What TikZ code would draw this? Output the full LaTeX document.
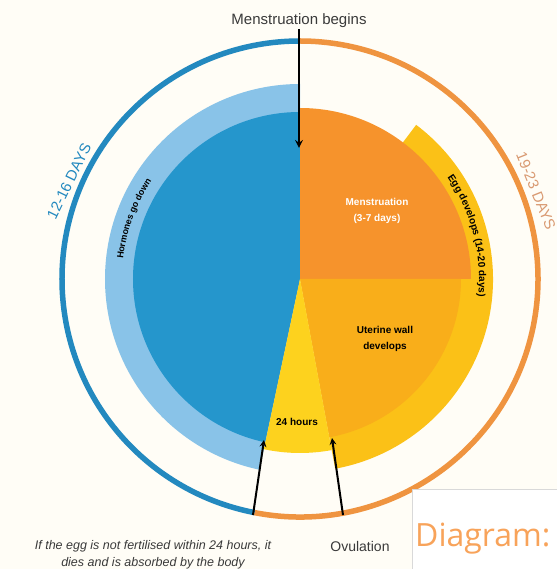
\documentclass[tikz,border=0pt]{standalone}
\usepackage{fontspec}
\setmainfont{Liberation Sans}
\newfontfamily\diagfont{Open Sans}
\usetikzlibrary{decorations.text}

\definecolor{cream}{HTML}{FFFDF6}
\definecolor{ringblue}{HTML}{2389BF}
\definecolor{darkblue}{HTML}{2596CC}
\definecolor{paleblue}{HTML}{89C3E8}
\definecolor{ringorange}{HTML}{EF9440}
\definecolor{mensorange}{HTML}{F6932C}
\definecolor{wallorange}{HTML}{F9AE1A}
\definecolor{eggyellow}{HTML}{FBC117}
\definecolor{wedgeyellow}{HTML}{FDD21E}
\definecolor{daysorange}{HTML}{D99A72}
\definecolor{labelgrey}{HTML}{3A3A3A}
\definecolor{boxorange}{HTML}{F8A35A}

\begin{document}
\begin{tikzpicture}[x=1pt,y=1pt,
    cycle ring/.style={line width=5.5pt},
    pointer/.style={->,>=stealth,line width=2pt},
    inlabel/.style={font=\bfseries\fontsize{10}{16}\selectfont,align=center},
    outlabel/.style={font=\fontsize{15}{18}\selectfont,text=labelgrey}]

    \fill[cream] (-300,-290) rectangle (257,279);
    \useasboundingbox (-300,-290) rectangle (257,279);

    % left half
    \fill[paleblue] (0,0) -- (90:195) arc[start angle=90,end angle=258,radius=195] -- cycle;
    \fill[darkblue] (0,0) -- (90:167) arc[start angle=90,end angle=258,radius=167] -- cycle;

    % right half
    \fill[eggyellow] (0,0) -- (-79.5:193) arc[start angle=-79.5,end angle=53,radius=193] -- cycle;
    \fill[mensorange] (0,0) -- (0:171) arc[start angle=0,end angle=90,radius=171] -- cycle;
    \fill[wallorange] (0,0) -- (-79.5:161) arc[start angle=-79.5,end angle=0,radius=161] -- cycle;
    \fill[wedgeyellow] (0,0) -- (258:174) arc[start angle=258,end angle=280.5,radius=174] -- cycle;

    % outer ring
    \draw[cycle ring,ringblue] (90:238) arc[start angle=90,end angle=259,radius=238];
    \draw[cycle ring,ringorange] (259:238) arc[start angle=259,end angle=450,radius=238];

    \path[decorate,decoration={text along path,text align=center,
        text={|\bfseries\fontsize{9}{9}\selectfont|Hormones go down}}]
        (190:178) arc[start angle=190,end angle=130,radius=178];
    \path[decorate,decoration={text along path,text align=center,
        text={|\bfseries\fontsize{10}{10}\selectfont|Egg develops (14-20 days)}}]
        (50:179) arc[start angle=50,end angle=-21,radius=179];

    \node[inlabel,text=white] (mens) at (77,68) {Menstruation\\(3-7 days)};
    \node[inlabel] (wall) at (85,-60) {Uterine wall\\develops};
    \node[inlabel] (hours) at (-3,-143) {24 hours};

    \node[outlabel,text=ringblue,rotate=64] (shortdays) at (-231,98) {12-16 DAYS};
    \node[outlabel,text=daysorange,rotate=-68] (longdays) at (236,88) {19-23 DAYS};

    \node[outlabel,anchor=south,inner sep=1pt] (begins) at (-1,250) {Menstruation begins};
    \coordinate (mensstart) at (-1,131);
    \draw[pointer,line width=2.5pt] (begins) -- (mensstart);

    \coordinate (lossfoot) at (-47,-236);
    \coordinate (losstip) at (-36,-161);
    \coordinate (ovufoot) at (43,-236);
    \coordinate (ovutip) at (32,-159);
    \draw[pointer] (lossfoot) -- (losstip);
    \draw[pointer] (ovufoot) -- (ovutip);

    \node[outlabel,font=\fontsize{14}{17}\selectfont] (ovulation) at (60,-267) {Ovulation};
    \node[text=labelgrey,font=\itshape\fontsize{12.5}{17.5}\selectfont,align=center] (eggfate) at (-147,-276)
        {If the egg is not fertilised within 24 hours, it\\dies and is absorbed by the body};

    \fill[white] (112,-210) rectangle (257,-290);
    \draw[gray!30,line width=1pt] (112,-290) -- (112,-210) -- (257,-210);
    \node[anchor=west,text=boxorange,font=\diagfont\fontsize{32}{36}\selectfont,inner sep=0pt] (diagram) at (115,-260) {Diagram:};
\end{tikzpicture}
\end{document}
